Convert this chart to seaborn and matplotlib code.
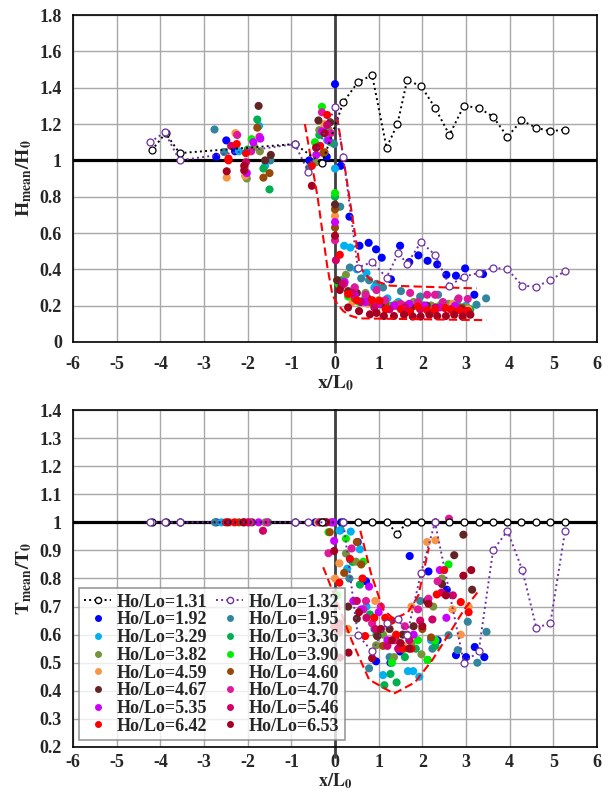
import numpy as np
import pandas as pd
import seaborn as sns
import matplotlib.pyplot as plt
from matplotlib.lines import Line2D
from matplotlib.ticker import FuncFormatter

# ---------------- series (Ho/Lo) ----------------
labels = ["1.92", "1.95", "3.29", "3.36", "3.82", "3.90", "4.59",
          "4.60", "4.67", "4.70", "5.35", "5.46", "6.42", "6.53"]
colors = ["#0000FF", "#31859C", "#00B0F0", "#00B050", "#77933C", "#00EE00", "#F79646",
          "#984807", "#632523", "#E0189C", "#CC00FF", "#D10068", "#FF0000", "#A50021"]

# dotted reference series (hollow circles)
ref131_x = [-4.20, -3.88, -3.56, -0.92, -0.30, 0.19, 0.52, 0.85, 1.18, 1.43, 1.65, 1.97,
            2.29, 2.62, 2.95, 3.29, 3.62, 3.95, 4.27, 4.61, 4.93, 5.26]
ref131_h = [1.055, 1.15, 1.04, 1.09, 0.983, 1.32, 1.43, 1.47, 1.07, 1.20, 1.44, 1.41,
            1.29, 1.14, 1.30, 1.29, 1.24, 1.13, 1.22, 1.18, 1.16, 1.17]
ref131_t = [1.0, 1.0, 1.0, 1.0, 1.0, 1.0, 1.0, 1.0, 1.0, 0.96, 1.0, 1.0,
            1.0, 1.0, 1.0, 1.0, 1.0, 1.0, 1.0, 1.0, 1.0, 1.0]

ref132_hx = [-4.23, -3.90, -3.56, -0.92, -0.61, 0.0, 0.19, 0.52, 0.85, 1.18, 1.45, 1.65,
             1.97, 2.29, 2.62, 2.95, 3.29, 3.62, 3.95, 4.29, 4.61, 4.93, 5.27]
ref132_h = [1.10, 1.155, 1.00, 1.09, 0.937, 1.295, 1.02, 0.41, 0.44, 0.355, 0.49, 0.43,
            0.55, 0.48, 0.31, 0.36, 0.38, 0.41, 0.40, 0.31, 0.305, 0.34, 0.39]
ref132_tx = [-4.23, -3.90, -3.56, -0.92, -0.61, 0.19, 0.52, 0.85, 1.18, 1.45, 1.65,
             1.97, 2.29, 2.95, 3.29, 3.62, 3.95, 4.29, 4.61, 4.93, 5.27]
ref132_t = [1.0, 1.0, 1.0, 1.0, 1.0, 1.0, 0.60, 0.54, 0.64, 0.655, 0.60,
            0.82, 1.0, 0.50, 0.54, 0.90, 0.97, 0.83, 0.625, 0.64, 0.97]

# ---------------- H_mean / H_0 (top panel) ----------------
h_x_192 = [-2.72, -2.49, -2.29, -0.59, -0.19, 0.0, 0.13, 0.33, 0.56, 0.77, 0.94, 1.07, 1.28,
           1.49, 1.70, 1.91, 2.12, 2.34, 2.55, 2.77, 2.98, 3.19, 3.39]
h_y_192 = [1.02, 1.11, 1.05, 1.00, 1.02, 1.42, 0.97, 0.69, 0.53, 0.546, 0.51, 0.464, 0.345,
           0.53, 0.44, 0.477, 0.447, 0.427, 0.37, 0.365, 0.405, 0.26, 0.374]
h_x_195 = [-2.76, -2.54, -1.48, -0.59, -0.02, 0.12, 0.34, 0.60, 0.78, 0.95, 1.10, 1.51, 1.95,
           2.36, 2.81, 3.24, 3.46]
h_y_195 = [1.17, 1.046, 1.00, 0.96, 1.09, 0.745, 0.41, 0.35, 0.34, 0.32, 0.30, 0.28, 0.25,
           0.26, 0.23, 0.205, 0.24]
h_x_329 = [-1.74, -1.60, -2.20, -0.18, 0.0, 0.21, 0.35, 0.50, 0.72, 0.90, 1.20, 1.45, 1.80,
           2.20, 2.60, 3.00]
h_y_329 = [1.19, 0.97, 1.05, 1.11, 0.955, 0.53, 0.52, 0.40, 0.38, 0.30, 0.24, 0.22, 0.21,
           0.20, 0.19, 0.20]
h_x_336 = [-1.78, -1.64, -1.50, -2.00, -0.36, -0.10, 0.0, 0.15, 0.40, 0.65, 0.95, 1.30, 1.65,
           2.05, 2.45, 2.85, 3.10]
h_y_336 = [1.225, 0.955, 0.84, 1.06, 1.14, 1.10, 0.80, 0.34, 0.26, 0.23, 0.21, 0.20, 0.19,
           0.20, 0.21, 0.19, 0.18]
h_x_382 = [-2.02, -1.85, -1.72, -0.36, -0.15, -0.43, 0.05, 0.25, 0.45, 0.70, 1.00, 1.40, 1.80,
           2.20, 2.60, 3.00]
h_y_382 = [0.90, 1.075, 1.05, 1.167, 1.17, 0.99, 0.34, 0.37, 0.30, 0.27, 0.23, 0.21, 0.22,
           0.20, 0.21, 0.19]
h_x_390 = [-1.91, -0.30, -0.46, 0.0, 0.08, 0.30, 0.55, 0.85, 1.20, 1.55, 1.95, 2.40, 2.75, 3.05]
h_y_390 = [1.117, 1.295, 1.10, 0.82, 0.32, 0.25, 0.22, 0.21, 0.20, 0.19, 0.21, 0.20, 0.19, 0.18]
h_x_459 = [-2.28, -2.48, -2.06, -0.25, 0.0, 0.40, 0.75, 1.10, 1.50, 1.90, 2.30, 2.70, 3.05]
h_y_459 = [1.15, 0.905, 0.915, 1.20, 0.693, 0.22, 0.21, 0.20, 0.19, 0.20, 0.19, 0.21, 0.18]
h_x_460 = [-1.78, -1.64, -1.50, -0.24, -0.27, 0.0, 0.0, 0.45, 0.80, 1.15, 1.60, 2.00, 2.45, 2.90]
h_y_460 = [1.18, 0.905, 0.93, 1.045, 1.04, 0.73, 0.63, 0.24, 0.22, 0.21, 0.20, 0.19, 0.20, 0.19]
h_x_467 = [-1.75, -1.60, -1.47, -0.38, -0.11, 0.0, 0.05, 0.15, 0.30, 0.50, 0.75, 1.05, 1.40,
           1.75, 2.10, 2.50, 2.90]
h_y_467 = [1.30, 1.00, 1.03, 1.22, 1.21, 0.757, 0.34, 0.31, 0.28, 0.27, 0.24, 0.21, 0.20,
           0.19, 0.20, 0.19, 0.18]
h_x_470 = [-2.24, -1.92, -1.73, -0.30, -0.10, 0.0, 0.21, 0.45, 0.70, 0.95, 1.15, 1.50, 1.72,
           1.90, 2.11, 2.29, 2.47, 2.83, 3.04]
h_y_470 = [1.14, 1.05, 1.13, 1.265, 1.15, 0.56, 0.32, 0.30, 0.26, 0.286, 0.23, 0.21, 0.27,
           0.22, 0.26, 0.26, 0.22, 0.24, 0.237]
h_x_535 = [-2.02, -1.87, -1.71, -0.30, -0.15, -0.43, 0.0, 0.22, 0.45, 0.70, 1.00, 1.35, 1.70,
           2.05, 2.40, 2.75]
h_y_535 = [0.93, 1.10, 1.12, 1.16, 1.11, 1.03, 0.66, 0.33, 0.26, 0.22, 0.21, 0.20, 0.21,
           0.20, 0.19, 0.20]
h_x_546 = [-2.04, -2.38, -0.18, -0.43, 0.02, 0.18, 0.40, 0.60, 0.90, 1.25, 1.60, 1.95, 2.30,
           2.65, 3.00]
h_y_546 = [0.99, 1.08, 1.195, 1.07, 0.45, 0.32, 0.27, 0.22, 0.19, 0.18, 0.19, 0.18, 0.19,
           0.18, 0.17]
h_x_642 = [-2.44, -2.44, -2.25, -2.04, -0.18, -0.34, -0.53, 0.11, 0.30, 0.50, 0.85, 1.02, 1.16,
           1.51, 1.72, 1.90, 2.11, 2.29, 2.52, 2.68, 2.86, 3.05]
h_y_642 = [1.01, 1.00, 1.09, 1.04, 1.25, 1.08, 0.97, 0.48, 0.264, 0.23, 0.23, 0.226, 0.18,
           0.18, 0.165, 0.195, 0.175, 0.175, 0.187, 0.175, 0.175, 0.17]
h_x_653 = [-2.48, -2.08, -2.08, -0.24, -0.43, -0.53, 0.0, 0.11, 0.30, 0.55, 0.80, 0.95, 1.12,
           1.35, 1.58, 1.78, 1.96, 2.16, 2.34, 2.54, 2.73, 2.92, 3.10]
h_y_653 = [0.94, 0.97, 0.945, 1.15, 1.07, 0.86, 0.585, 0.286, 0.19, 0.17, 0.152, 0.16, 0.143,
           0.143, 0.15, 0.14, 0.14, 0.15, 0.143, 0.143, 0.15, 0.14, 0.15]

# ---------------- T_mean / T_0 (bottom panel) ----------------
t_x_192 = [-2.72, -0.45, 0.14, 0.52, 0.71, 0.94, 1.27, 1.49, 1.71, 2.14, 2.35, 2.56, 2.77,
           3.00, 3.20, 3.42]
t_y_192 = [1.0, 1.0, 1.0, 0.93, 0.79, 0.505, 0.50, 0.54, 0.88, 0.825, 0.58, 0.76, 0.527,
           0.52, 0.556, 0.52]
t_x_195 = [-2.75, -0.05, 0.13, 0.33, 0.78, 1.25, 1.55, 1.95, 2.23, 2.60, 2.81, 3.04, 3.26, 3.47]
t_y_195 = [1.0, 1.0, 0.973, 0.80, 0.48, 0.52, 0.56, 0.72, 0.55, 0.598, 0.545, 0.646, 0.50, 0.61]
t_x_329 = [-2.60, -0.30, 0.11, 0.36, 0.28, 0.57, 0.72, 0.90, 1.10, 1.30, 1.67, 1.79, 1.93,
           2.20, 0.02]
t_y_329 = [1.0, 1.0, 0.97, 0.967, 0.835, 0.904, 0.70, 0.62, 0.456, 0.50, 0.47, 0.47, 0.45,
           0.58, 0.738]
t_x_336 = [-1.53, -0.20, 0.40, 0.57, 0.80, 1.13, 1.27, 1.41, 1.60, 1.85, 2.12, 2.30, 0.95]
t_y_336 = [1.0, 1.0, 0.859, 0.778, 0.672, 0.42, 0.46, 0.43, 0.52, 0.55, 0.51, 0.56, 0.60]
t_x_382 = [-1.60, -0.35, 0.25, 0.94, 1.10, 1.35, 1.55, 1.98, 2.25, 2.45, 0.48, 1.75]
t_y_382 = [1.0, 1.0, 0.889, 0.562, 0.60, 0.52, 0.55, 0.53, 0.70, 0.80, 0.86, 0.57]
t_x_390 = [-0.15, 0.25, 0.65, 1.00, 1.30, 1.60, 1.90, 2.12, 2.30, 2.60, 0.05]
t_y_390 = [0.965, 0.942, 0.86, 0.60, 0.50, 0.55, 0.58, 0.51, 0.58, 0.85, 0.74]
t_x_459 = [-2.40, -0.40, 0.10, 0.00, 0.30, 0.92, 1.25, 1.55, 1.75, 2.11, 2.30, 2.69, 2.88, 3.06]
t_y_459 = [1.0, 1.0, 0.854, 0.80, 0.62, 0.72, 0.65, 0.56, 0.70, 0.93, 0.936, 0.69, 0.60, 0.70]
t_x_460 = [-2.20, -0.12, 0.21, 0.50, 0.60, 0.09, 0.97, 1.10, 1.40, 1.65, 2.00, 2.20]
t_y_460 = [1.0, 0.965, 0.82, 0.93, 0.85, 0.607, 0.595, 0.56, 0.58, 0.60, 0.62, 0.59]
t_x_467 = [-1.90, -0.25, 0.30, 0.50, 0.97, 1.25, 1.55, 1.80, 2.10, 2.45, 2.73, 3.14, 2.94]
t_y_467 = [1.0, 1.0, 0.70, 0.657, 0.595, 0.62, 0.60, 0.63, 0.72, 0.78, 0.883, 0.76, 0.956]
t_x_470 = [-1.95, -1.55, -0.10, -0.15, 0.38, 0.65, 0.85, 1.05, 1.35, 1.60, 1.90, 2.14, 2.35,
           2.61, 0.71]
t_y_470 = [1.0, 1.0, 1.0, 0.89, 0.907, 0.69, 0.64, 0.70, 0.58, 0.63, 0.69, 0.728, 0.79,
           1.013, 0.72]
t_x_535 = [-1.75, -0.05, -0.02, 0.42, 0.78, 1.00, 1.20, 1.45, 1.80, 2.40, 2.55, 0.60]
t_y_535 = [1.0, 1.0, 0.934, 0.72, 0.771, 0.68, 0.58, 0.55, 0.60, 0.83, 0.66, 0.69]
t_x_546 = [-1.65, -2.00, -0.35, 0.10, 0.50, 0.72, 0.92, 1.20, 1.45, 1.70, 1.95, 2.23, 2.44, 2.70]
t_y_546 = [0.97, 1.0, 1.0, 0.62, 0.72, 0.66, 0.62, 0.56, 0.55, 0.58, 0.65, 0.654, 0.75, 0.74]
t_x_642 = [-2.50, -2.30, -2.08, -0.25, -0.02, 0.10, 0.34, 0.63, 0.69, 0.90, 1.15, 1.40, 1.55,
           1.75, 2.33, 2.50, 2.88, 3.06, 1.30]
t_y_642 = [1.0, 1.0, 1.0, 1.0, 0.629, 0.785, 0.87, 0.80, 0.595, 0.66, 0.66, 0.60, 0.55,
           0.55, 0.743, 0.83, 0.716, 0.68, 0.65]
t_x_653 = [-2.45, -2.10, -0.20, -0.02, 0.11, 0.11, 0.31, 0.85, 1.05, 1.30, 1.50, 1.70, 2.00,
           2.14, 2.54, 2.94, 3.12, 0.55]
t_y_653 = [1.0, 1.0, 1.0, 0.898, 0.64, 0.518, 0.536, 0.516, 0.62, 0.58, 0.57, 0.55, 0.63,
           0.71, 0.74, 0.81, 0.83, 0.68]

# red dashed envelopes
env_h_out_x = [-0.69, -0.40, -0.18, -0.06, 0.05, 0.19, 0.35, 0.55, 3.47]
env_h_out_y = [1.20, 0.80, 0.42, 0.26, 0.21, 0.17, 0.145, 0.13, 0.12]
env_h_in_x = [0.05, 0.27, 0.48, 0.57, 0.80, 1.26, 3.24]
env_h_in_y = [1.24, 0.89, 0.56, 0.41, 0.345, 0.31, 0.295]
env_t_in_x = [0.58, 0.82, 1.10, 1.35, 1.67, 1.91, 2.15]
env_t_in_y = [0.97, 0.82, 0.69, 0.655, 0.68, 0.74, 0.91]
env_t_out_x = [-0.27, 0.06, 0.38, 0.78, 1.35, 1.83, 2.23, 2.64, 2.96, 3.26]
env_t_out_y = [0.84, 0.71, 0.58, 0.44, 0.39, 0.43, 0.51, 0.61, 0.69, 0.75]

top_sets = [(h_x_192, h_y_192), (h_x_195, h_y_195), (h_x_329, h_y_329), (h_x_336, h_y_336),
            (h_x_382, h_y_382), (h_x_390, h_y_390), (h_x_459, h_y_459), (h_x_460, h_y_460),
            (h_x_467, h_y_467), (h_x_470, h_y_470), (h_x_535, h_y_535), (h_x_546, h_y_546),
            (h_x_642, h_y_642), (h_x_653, h_y_653)]
bot_sets = [(t_x_192, t_y_192), (t_x_195, t_y_195), (t_x_329, t_y_329), (t_x_336, t_y_336),
            (t_x_382, t_y_382), (t_x_390, t_y_390), (t_x_459, t_y_459), (t_x_460, t_y_460),
            (t_x_467, t_y_467), (t_x_470, t_y_470), (t_x_535, t_y_535), (t_x_546, t_y_546),
            (t_x_642, t_y_642), (t_x_653, t_y_653)]


def to_frame(sets):
    rows = []
    for lab, (xs, ys) in zip(labels, sets):
        for xv, yv in zip(xs, ys):
            rows.append({"x": xv, "y": yv, "series": lab})
    return pd.DataFrame(rows)


sns.set_style("white")
plt.rcParams["font.family"] = ["Liberation Serif", "DejaVu Serif"]
plt.rcParams["font.weight"] = "bold"
plt.rcParams["mathtext.fontset"] = "stix"

palette = dict(zip(labels, colors))
fig = plt.figure(figsize=(6.1, 7.96), dpi=100)
ax1 = fig.add_axes([0.1197, 0.5704, 0.859, 0.4106])
ax2 = fig.add_axes([0.1197, 0.0616, 0.859, 0.4233])

fmt = FuncFormatter(lambda v, p: f"{v:g}")
panels = [
    (ax1, to_frame(top_sets), (0, 1.8), np.arange(0, 1.81, 0.2), ref131_x, ref131_h, ref132_hx, ref132_h,
     [(env_h_out_x, env_h_out_y), (env_h_in_x, env_h_in_y)], r"$\mathbf{H_{mean}/H_0}$", 10, 0, 14),
    (ax2, to_frame(bot_sets), (0.2, 1.4), np.arange(0.2, 1.41, 0.1), ref131_x, ref131_t, ref132_tx, ref132_t,
     [(env_t_out_x, env_t_out_y), (env_t_in_x, env_t_in_y)], r"$\mathbf{T_{mean}/T_0}$", 5, 0.5, 13),
]

for ax, df, ylim, yticks, bx, by, px, py, envs, ylab, tpad, xpad, xfs in panels:
    ax.set_xlim(-6, 6)
    ax.set_ylim(*ylim)
    ax.set_xticks(range(-6, 7))
    ax.set_yticks(yticks)
    ax.xaxis.set_major_formatter(fmt)
    ax.yaxis.set_major_formatter(fmt)
    ax.grid(True, color="#A8A8A8", lw=1)
    ax.set_axisbelow(True)
    for sp in ax.spines.values():
        sp.set_color("black")
        sp.set_linewidth(1.2)
    ax.tick_params(direction="in", length=4, labelsize=13, color="#808080")
    ax.tick_params(axis="x", pad=tpad)
    ax.tick_params(axis="y", pad=8)
    ax.axhline(1.0, color="black", lw=2.3, zorder=1.5)
    ax.axvline(0.0, ymin=-0.03, ymax=1, color="#404040", lw=2, zorder=1.6, clip_on=False)

    sns.scatterplot(data=df, x="x", y="y", hue="series", hue_order=labels, palette=palette,
                    s=34, edgecolor="none", linewidth=0, legend=False, ax=ax, zorder=2)
    for ex, ey in envs:
        sns.lineplot(x=ex, y=ey, sort=False, estimator=None, ax=ax, color="#FF0000",
                     lw=1.5, zorder=2.5)
        ax.lines[-1].set_dashes((4, 2))
    sns.lineplot(x=bx, y=by, sort=False, estimator=None, ax=ax, color="black", lw=1.4,
                 marker="o", markersize=5, markerfacecolor="white", markeredgecolor="black",
                 markeredgewidth=0.9, zorder=3)
    ax.lines[-1].set_linestyle(":")
    sns.lineplot(x=px, y=py, sort=False, estimator=None, ax=ax, color="#7030A0", lw=1.4,
                 marker="o", markersize=5, markerfacecolor="white", markeredgecolor="#7030A0",
                 markeredgewidth=0.9, zorder=3)
    ax.lines[-1].set_linestyle(":")
    ax.set_xlabel(r"$\mathbf{x/L_0}$", fontsize=xfs, labelpad=xpad)
    ax.set_ylabel(ylab, fontsize=14, labelpad=4)
    for lab in ax.get_xticklabels() + ax.get_yticklabels():
        lab.set_fontweight("bold")

# legend in the lower panel
col1 = ["1.31", "1.92", "3.29", "3.82", "4.59", "4.67", "5.35", "6.42"]
col2 = ["1.32", "1.95", "3.36", "3.90", "4.60", "4.70", "5.46", "6.53"]
handles = []
for lab in col1 + col2:
    if lab == "1.31":
        h = Line2D([], [], color="black", ls=":", lw=1.4, marker="o", ms=4.5, mfc="white", mec="black")
    elif lab == "1.32":
        h = Line2D([], [], color="#7030A0", ls=":", lw=1.4, marker="o", ms=4.5, mfc="white", mec="#7030A0")
    else:
        h = Line2D([], [], ls="none", marker="o", ms=5, mfc=palette[lab], mec="none")
    handles.append(h)
leg = ax2.legend(handles, [f"Ho/Lo={l}" for l in col1 + col2], ncol=2, loc="lower left",
                 bbox_to_anchor=(0.011, 0.02), borderaxespad=0,
                 prop={"weight": "bold", "size": 13}, handlelength=1.5, handletextpad=0.3,
                 labelspacing=0.04, columnspacing=0.5, borderpad=0.3, frameon=True, fancybox=False)
leg.get_frame().set_edgecolor("#808080")
leg.get_frame().set_linewidth(1.2)
leg.set_zorder(5)

fig.savefig("out.png", dpi=100)
